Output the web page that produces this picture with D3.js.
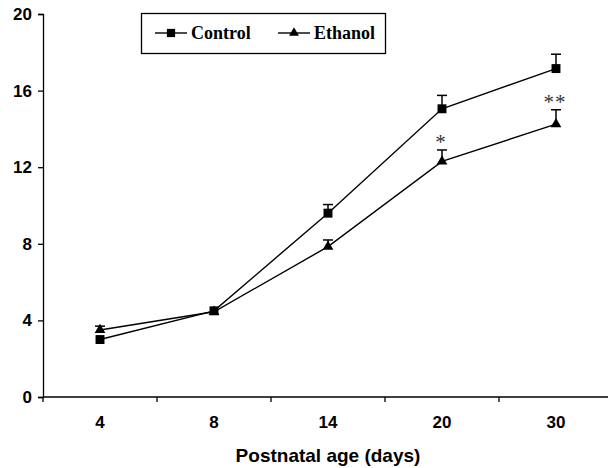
<!DOCTYPE html>
<html>
<head>
<meta charset="UTF-8">
<script src="https://d3js.org/d3.v7.min.js"></script>
<style>
  body { margin: 0; background: #fff; }
  svg { display: block; }
  .tick text { font-family: 'Liberation Sans', Arial, sans-serif; font-weight: bold; font-size: 17px; fill: #000; }
</style>
</head>
<body>
<div id="chart"></div>
<script>
const ages = ["4", "8", "14", "20", "30"];
const controlMean = [3.0, 4.5, 9.6, 15.05, 17.15];
const controlErr = [0.0, 0.0, 0.45, 0.7, 0.75];
const ethanolMean = [3.5, 4.45, 7.85, 12.3, 14.25];
const ethanolErr = [0.2, 0.0, 0.35, 0.6, 0.75];
const stars = ["", "", "", "*", "**"];
const yTicks = [0, 4, 8, 12, 16, 20];

const W = 608, H = 468;
const svg = d3.select("#chart").append("svg").attr("width", W).attr("height", H);

const x = d3.scaleBand().domain(ages).range([43, 613]);
const y = d3.scaleLinear().domain([0, 20]).range([397, 14]);

// y axis
const yAx = svg.append("g")
  .attr("transform", "translate(43,0)")
  .call(d3.axisLeft(y).tickValues(yTicks).tickSize(5).tickPadding(6));
yAx.select(".domain").attr("stroke", "#000").attr("stroke-width", 1.3);
yAx.selectAll(".tick line").attr("stroke", "#000").attr("stroke-width", 1.3);

// x axis: ticks at band boundaries, labels at band centres
const xAx = svg.append("g").attr("transform", "translate(0,397)");
xAx.append("line").attr("x1", 43).attr("x2", 613).attr("stroke", "#000").attr("stroke-width", 1.3);
ages.forEach(a => {
  xAx.append("line")
    .attr("x1", x(a)).attr("x2", x(a)).attr("y1", 0).attr("y2", 5)
    .attr("stroke", "#000").attr("stroke-width", 1.3);
  xAx.append("text")
    .attr("x", x(a) + x.bandwidth() / 2).attr("y", 31)
    .attr("text-anchor", "middle")
    .style("font-family", "'Liberation Sans', Arial, sans-serif")
    .style("font-weight", "bold").style("font-size", "17px")
    .text(a);
});

svg.append("text")
  .attr("x", 328).attr("y", 462)
  .attr("text-anchor", "middle")
  .style("font-family", "'Liberation Sans', Arial, sans-serif")
  .style("font-weight", "bold").style("font-size", "19px")
  .text("Postnatal age (days)");

const cx = a => x(a) + x.bandwidth() / 2;
const line = d3.line().x(d => cx(d.age)).y(d => y(d.v));

const series = [
  { name: "Control", mean: controlMean, err: controlErr, sym: d3.symbolSquare, size: 80 },
  { name: "Ethanol", mean: ethanolMean, err: ethanolErr, sym: d3.symbolTriangle, size: 50 }
];

series.forEach(s => {
  const pts = ages.map((a, i) => ({ age: a, v: s.mean[i], e: s.err[i] }));
  // error bars (upper only)
  pts.filter(d => d.e > 0).forEach(d => {
    svg.append("line")
      .attr("x1", cx(d.age)).attr("x2", cx(d.age))
      .attr("y1", y(d.v)).attr("y2", y(d.v + d.e))
      .attr("stroke", "#000").attr("stroke-width", 1.5);
    svg.append("line")
      .attr("x1", cx(d.age) - 5).attr("x2", cx(d.age) + 5)
      .attr("y1", y(d.v + d.e)).attr("y2", y(d.v + d.e))
      .attr("stroke", "#000").attr("stroke-width", 1.5);
  });
  svg.append("path").datum(pts)
    .attr("fill", "none").attr("stroke", "#000").attr("stroke-width", 1.4)
    .attr("d", line);
  svg.selectAll(null).data(pts).enter().append("path")
    .attr("transform", d => `translate(${cx(d.age)},${y(d.v)})`)
    .attr("d", d3.symbol().type(s.sym).size(s.size))
    .attr("fill", "#000");
});

// significance stars above ethanol error bars
ages.forEach((a, i) => {
  if (!stars[i]) return;
  svg.append("text")
    .attr("x", cx(a) - 1).attr("y", y(ethanolMean[i] + ethanolErr[i]) - 1)
    .attr("text-anchor", "middle")
    .style("font-family", "'Liberation Serif', 'Times New Roman', serif")
    .style("font-size", "21px").style("fill", "#333")
    .style("letter-spacing", "1px")
    .text(stars[i]);
});

// legend
const lg = svg.append("g");
lg.append("rect").attr("x", 141.5).attr("y", 13.5).attr("width", 244).attr("height", 40)
  .attr("fill", "#fff").attr("stroke", "#000").attr("stroke-width", 1.3);
const legendItems = [
  { s: series[0], x0: 155 },
  { s: series[1], x0: 278 }
];
legendItems.forEach(({ s, x0 }) => {
  lg.append("line").attr("x1", x0).attr("x2", x0 + 32).attr("y1", 33).attr("y2", 33)
    .attr("stroke", "#000").attr("stroke-width", 1.4);
  lg.append("path").attr("transform", `translate(${x0 + 16},33)`)
    .attr("d", d3.symbol().type(s.sym).size(s.size * 0.85)).attr("fill", "#000");
  lg.append("text").attr("x", x0 + 36).attr("y", 39)
    .style("font-family", "'Liberation Serif', 'Times New Roman', serif")
    .style("font-weight", "bold").style("font-size", "18px")
    .text(s.name);
});
</script>
</body>
</html>
